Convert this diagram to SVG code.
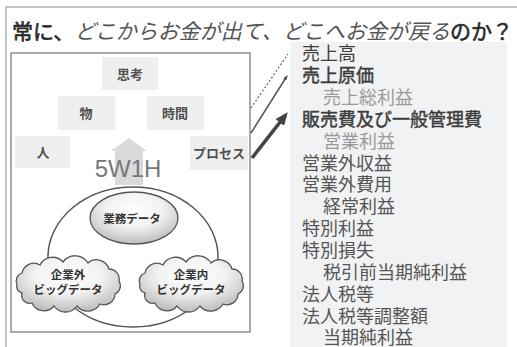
<svg xmlns="http://www.w3.org/2000/svg" width="517" height="347" viewBox="0 0 517 347">
<style>
  .jp { font-family: "Noto Sans CJK JP", "Noto Sans", sans-serif; }
  .box { fill: #efefef; }
  .boxt { font-family: "Noto Sans CJK JP", sans-serif; font-size: 13px; font-weight: 700; fill: #505050; text-anchor: middle; }
  .blob { fill: url(#gr); stroke: #555; stroke-width: 1.3; }
  .blobt { font-family: "Noto Sans CJK JP", sans-serif; font-size: 11.5px; font-weight: 700; fill: #333; text-anchor: middle; }
  .pl { font-family: "Noto Sans CJK JP", sans-serif; font-size: 18px; fill: #555; }
  .pl.dk { fill: #3c3c3c; }
  .pl.b { stroke: #3c3c3c; stroke-width: 0.45; }
  .pl.lt { fill: #9a9a9a; }
</style>
<defs>
  <radialGradient id="gr" cx="50%" cy="35%" r="65%">
    <stop offset="0" stop-color="#ffffff"/>
    <stop offset="0.5" stop-color="#f2f2f2"/>
    <stop offset="1" stop-color="#bdbdbd"/>
  </radialGradient>
  <path id="cloud" d="M-51,0 A8,8 0 0 1 -46,-11 A12,12 0 0 1 -28,-19 A14,14 0 0 1 -5,-22 A15,15 0 0 1 20,-21 A13,13 0 0 1 41,-15 A10,10 0 0 1 51,-3 A9,9 0 0 1 47,10 A11,11 0 0 1 32,20 A14,14 0 0 1 9,22 A14,14 0 0 1 -14,22 A13,13 0 0 1 -36,19 A8,8 0 0 1 -46,9 A7,7 0 0 1 -51,0 Z"/>
  <marker id="ahBig" markerUnits="userSpaceOnUse" markerWidth="13" markerHeight="11" viewBox="0 0 13 11" refX="9" refY="5.5" orient="auto">
    <path d="M0,0 L13,5.5 L0,11 Z" fill="#444"/>
  </marker>
  <marker id="ahSmall" markerUnits="userSpaceOnUse" markerWidth="5" markerHeight="4" viewBox="0 0 5 4" refX="4" refY="2" orient="auto">
    <path d="M0,0 L5,2 L0,4 Z" fill="#555"/>
  </marker>
</defs>

<rect width="517" height="347" fill="#ffffff"/>
<!-- outer frame -->
<rect x="6" y="7" width="530" height="360" fill="none" stroke="#b0b0b0" stroke-width="1.5"/>

<!-- title -->
<g id="title">
  <text class="jp" x="12" y="39" font-size="21"><tspan fill="#2a2a2a" stroke="#2a2a2a" stroke-width="0.6">常に、</tspan><tspan font-style="italic" fill="#555">どこからお金が出て、どこへお金が戻る</tspan><tspan fill="#2a2a2a" stroke="#2a2a2a" stroke-width="0.6">のか？</tspan></text>
</g>

<!-- left panel -->
<g id="left-panel">
  <rect x="11" y="53" width="239" height="279" fill="#ffffff" stroke="#8f8f8f" stroke-width="1.5"/>
</g>

<g id="node-shikou">
  <rect class="box" x="102" y="57" width="56" height="33"/>
  <text class="boxt" x="130" y="78.5">思考</text>
</g>
<g id="node-mono">
  <rect class="box" x="58" y="96" width="57" height="34"/>
  <text class="boxt" x="86" y="117.5">物</text>
</g>
<g id="node-jikan">
  <rect class="box" x="147" y="96" width="57" height="34"/>
  <text class="boxt" x="175" y="117.5">時間</text>
</g>
<g id="node-hito">
  <rect class="box" x="15" y="136" width="55" height="32"/>
  <text class="boxt" x="43" y="157">人</text>
</g>
<g id="node-process">
  <rect class="box" x="190" y="136" width="58" height="34"/>
  <text class="boxt" x="219" y="157.5">プロセス</text>
</g>

<g id="node-5w1h">
  <polygon points="129,138 147,151 143,151 143,185 115,185 115,151 111,151" fill="#dadada"/>
  <text x="128" y="177" font-family="'Liberation Sans', Arial, sans-serif" font-size="24" fill="#777" text-anchor="middle">5W1H</text>
</g>

<g id="connectors">
  <ellipse cx="133" cy="257" rx="85" ry="70" fill="none" stroke="#555" stroke-width="1.5"/>
  <line x1="251" y1="108" x2="288" y2="54" stroke="#666" stroke-width="1.2" stroke-dasharray="2 2"/>
  <line x1="251" y1="133" x2="287" y2="76" stroke="#555" stroke-width="1.5" marker-end="url(#ahSmall)"/>
  <line x1="252" y1="158" x2="285.3" y2="115.3" stroke="#444" stroke-width="3.5" marker-end="url(#ahBig)"/>
</g>

<g id="node-gyomu">
  <ellipse class="blob" cx="134" cy="218" rx="44" ry="26"/>
  <text class="blobt" x="132" y="223">業務データ</text>
</g>
<g id="node-kigyougai">
  <use href="#cloud" class="blob" x="68" y="284"/>
  <text class="blobt" x="68" y="279">企業外</text>
  <text class="blobt" x="68" y="294">ビッグデータ</text>
</g>
<g id="node-kigyounai">
  <use href="#cloud" class="blob" x="191" y="284"/>
  <text class="blobt" x="191" y="279">企業内</text>
  <text class="blobt" x="191" y="294">ビッグデータ</text>
</g>

<!-- right panel: P/L items -->
<g id="pl-panel">
  <rect x="290" y="42" width="217" height="310" fill="#f1f2f3"/>
  <text class="pl dk" x="302" y="60">売上高</text>
  <text class="pl dk b" x="302" y="82">売上原価</text>
  <text class="pl lt" x="323" y="104">売上総利益</text>
  <text class="pl dk b" x="302" y="126">販売費及び一般管理費</text>
  <text class="pl lt" x="323" y="148">営業利益</text>
  <text class="pl" x="302" y="170">営業外収益</text>
  <text class="pl" x="302" y="191">営業外費用</text>
  <text class="pl" x="323" y="213">経常利益</text>
  <text class="pl" x="302" y="235">特別利益</text>
  <text class="pl" x="302" y="257">特別損失</text>
  <text class="pl" x="323" y="279">税引前当期純利益</text>
  <text class="pl" x="302" y="301">法人税等</text>
  <text class="pl" x="302" y="323">法人税等調整額</text>
  <text class="pl" x="323" y="344">当期純利益</text>
</g>
</svg>
